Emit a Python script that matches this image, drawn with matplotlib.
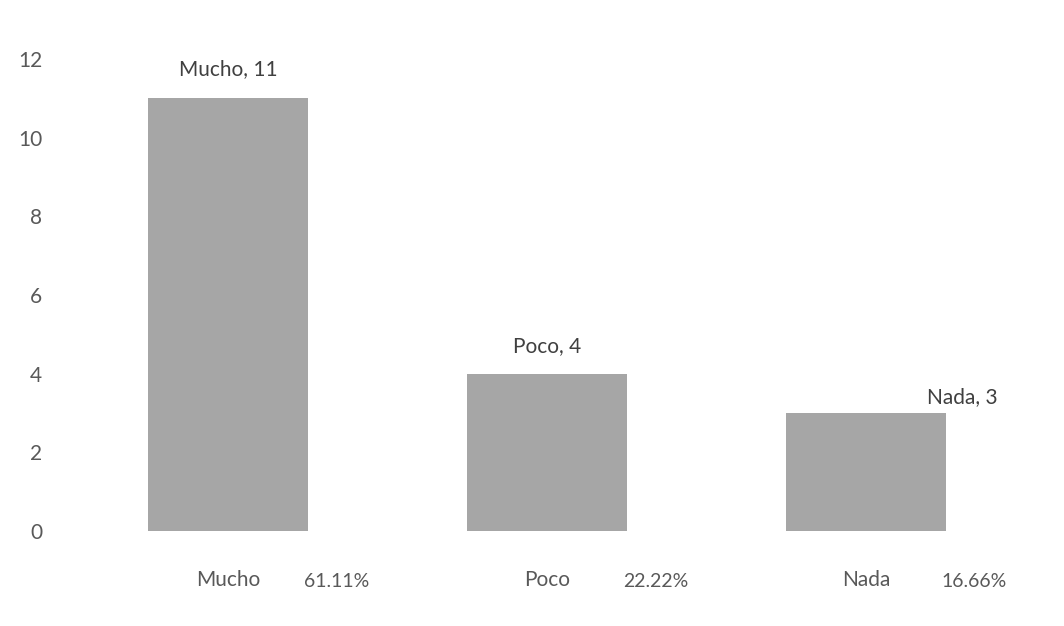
import matplotlib.pyplot as plt
from matplotlib import transforms

categorias = ['Mucho', 'Poco', 'Nada']
valores = [11, 4, 3]
porcentajes = ['61.11%', '22.22%', '16.66%']

plt.rcParams['font.family'] = ['Lato', 'DejaVu Sans']
gris = '#595959'

fig = plt.figure(figsize=(10.64, 6.26), dpi=100)
ax = fig.add_axes([0.0644, 0.1518, 0.8994, 0.754])

x = range(len(categorias))
barras = ax.bar(x, valores, width=0.5, color='#a6a6a6')

ax.set_xlim(-0.5, 2.5)
ax.set_ylim(0, 12)
ax.set_yticks(range(0, 13, 2))
ax.set_xticks(list(x))
ax.set_xticklabels(categorias)
ax.tick_params(length=0, labelsize=15, colors=gris)
ax.tick_params(axis='y', pad=19)
ax.tick_params(axis='x', pad=28)
for s in ax.spines.values():
    s.set_visible(False)

# etiquetas de datos (la de Nada movida a la derecha)
desplaz = [(0, 21), (0, 20), (69, 11.5)]
for b, cat, v, d in zip(barras, categorias, valores, desplaz):
    ax.annotate('%s, %d' % (cat, v), (b.get_x() + b.get_width() / 2, v),
                xytext=d, textcoords='offset points', ha='center', va='center',
                fontsize=15, color='#404040')

trans = transforms.blended_transform_factory(ax.transData, ax.transAxes)
for i, p in enumerate(porcentajes):
    ax.text(i + 0.34, -0.106, p, transform=trans, ha='center', va='center',
            fontsize=14, color=gris)

fig.savefig('out.png', dpi=100)
